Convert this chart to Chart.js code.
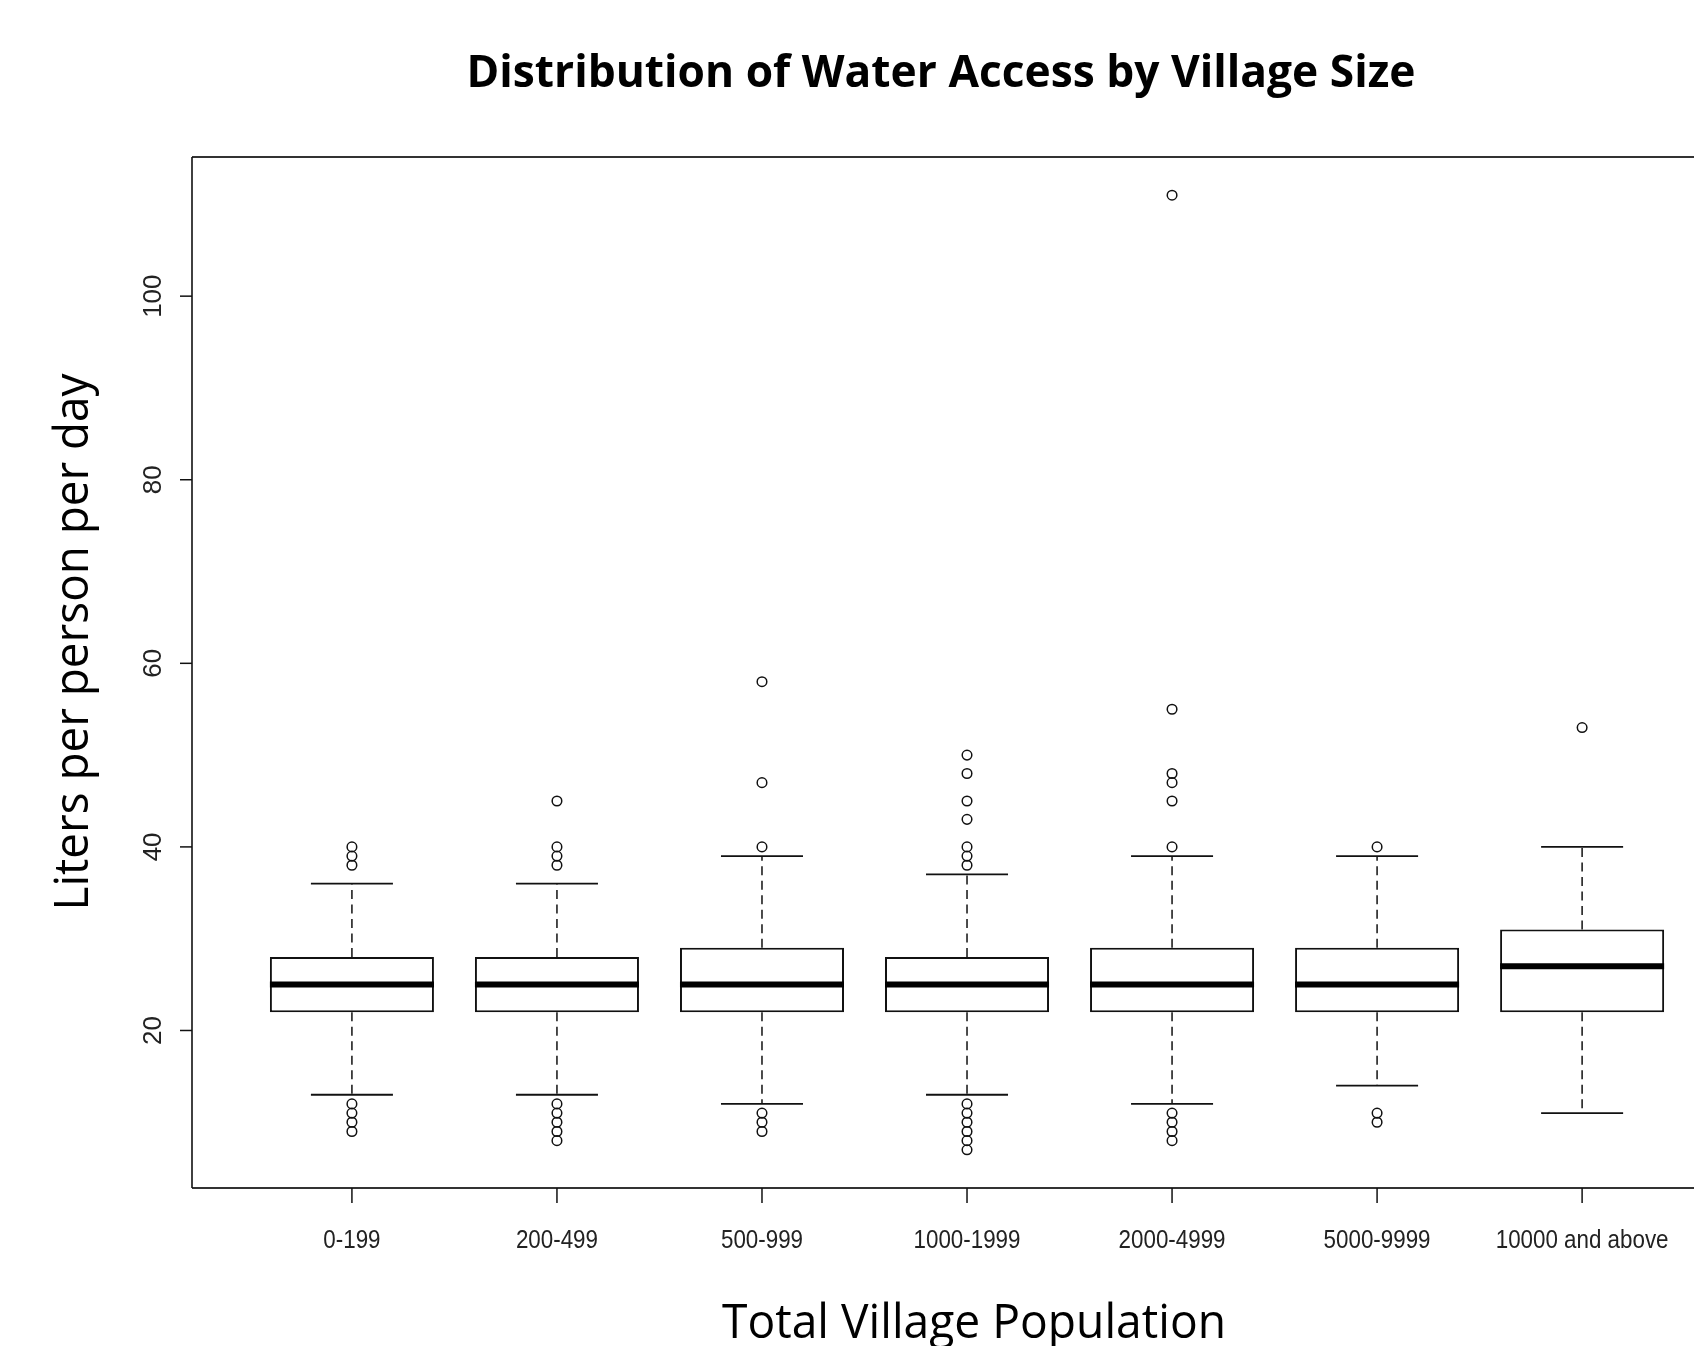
<!DOCTYPE html>
<html>
<head>
<meta charset="utf-8">
<title>Distribution of Water Access by Village Size</title>
<script src="https://cdn.jsdelivr.net/npm/chart.js@4.4.1/dist/chart.umd.min.js"></script>
<style>
  html, body { margin: 0; padding: 0; background: #fff; }
  #wrap { width: 1694px; height: 1346px; }
</style>
</head>
<body>
<div id="wrap"><canvas id="chart" width="1694" height="1346"></canvas></div>
<script>
// Box plot: liters per person per day, one box per village size band

const categories = ['0-199', '200-499', '500-999', '1000-1999', '2000-4999', '5000-9999', '10000 and above'];
const whiskerLow = [13, 13, 12, 13, 12, 14, 11];
const q1 = [22, 22, 22, 22, 22, 22, 22];
const medians = [25, 25, 25, 25, 25, 25, 27];
const q3 = [28, 28, 29, 28, 29, 29, 31];
const whiskerHigh = [36, 36, 39, 37, 39, 39, 40];
const outliers = [
  [40, 39, 38, 12, 11, 10, 9],
  [45, 40, 39, 38, 12, 11, 10, 9, 8],
  [58, 47, 40, 11, 10, 9],
  [50, 48, 45, 43, 40, 39, 38, 12, 11, 10, 9, 8, 7],
  [111, 55, 48, 47, 45, 40, 11, 10, 9, 8],
  [40, 11, 10],
  [53],
];
const yTicks = [20, 40, 60, 80, 100];

const INK = '#111';
const LABEL_INK = '#222';

function line(ctx, x1, y1, x2, y2) {
  ctx.beginPath();
  ctx.moveTo(x1, y1);
  ctx.lineTo(x2, y2);
  ctx.stroke();
}

// centred text, optionally rotated and squeezed/stretched to a given width
function drawText(ctx, text, x, y, opts) {
  ctx.save();
  ctx.font = opts.font;
  ctx.fillStyle = opts.color || INK;
  ctx.textAlign = 'center';
  ctx.textBaseline = 'alphabetic';
  ctx.translate(x, y);
  if (opts.angle) ctx.rotate(opts.angle);
  let sx = opts.squeeze || 1;
  if (opts.width) sx = opts.width / ctx.measureText(text).width;
  ctx.scale(sx, 1);
  ctx.fillText(text, 0, 0);
  ctx.restore();
}

const boxPlotExtras = {
  id: 'boxPlotExtras',
  afterDatasetsDraw(chart) {
    const { ctx } = chart;
    const y = chart.scales.y;
    const bars = chart.getDatasetMeta(0).data;
    ctx.save();
    ctx.strokeStyle = INK;
    categories.forEach((c, i) => {
      const bar = bars[i];
      const cx = bar.x;
      const half = bar.width / 2;
      const capHalf = half / 2;
      const yHi = y.getPixelForValue(whiskerHigh[i]);
      const yLo = y.getPixelForValue(whiskerLow[i]);

      ctx.lineWidth = 1.5;
      ctx.setLineDash([9, 5.5]);
      line(ctx, cx, y.getPixelForValue(q3[i]), cx, yHi);
      line(ctx, cx, y.getPixelForValue(q1[i]), cx, yLo);
      ctx.setLineDash([]);

      ctx.lineWidth = 1.8;
      line(ctx, cx - capHalf, yHi, cx + capHalf, yHi);
      line(ctx, cx - capHalf, yLo, cx + capHalf, yLo);

      const ym = y.getPixelForValue(medians[i]);
      ctx.lineWidth = 6;
      ctx.strokeStyle = '#000';
      line(ctx, cx - half, ym, cx + half, ym);
      ctx.strokeStyle = INK;
    });
    ctx.restore();
  },
  afterDraw(chart) {
    const { ctx, chartArea: area, width } = chart;
    const { x, y } = chart.scales;
    ctx.save();

    // frame (right side runs off the picture)
    ctx.strokeStyle = '#333';
    ctx.lineWidth = 2;
    line(ctx, area.left, area.top, width, area.top);
    line(ctx, area.left, area.bottom, width, area.bottom);
    ctx.lineWidth = 1.6;
    ctx.strokeStyle = INK;
    line(ctx, area.left, area.top, area.left, area.bottom);

    // x ticks + labels
    ctx.lineWidth = 1.5;
    x.ticks.forEach((t, i) => {
      const px = x.getPixelForValue(t.value);
      line(ctx, px, area.bottom, px, area.bottom + 15);
      drawText(ctx, categories[i], px, 1248, { font: '26px "Liberation Sans", Arial, sans-serif', squeeze: 0.86, color: LABEL_INK });
    });

    // y ticks + rotated labels
    y.ticks.forEach((t) => {
      const py = y.getPixelForValue(t.value);
      line(ctx, area.left - 12, py, area.left, py);
      drawText(ctx, String(t.value), 160.5, py, { font: '26px "Liberation Sans", Arial, sans-serif', angle: -Math.PI / 2, color: LABEL_INK });
    });

    // titles
    drawText(ctx, 'Distribution of Water Access by Village Size', 941, 87, { font: 'bold 45px "Open Sans", sans-serif', width: 949, color: '#000' });
    drawText(ctx, 'Liters per person per day', 88, 642, { font: '47px "Open Sans", sans-serif', width: 537, angle: -Math.PI / 2, color: '#000' });
    drawText(ctx, 'Total Village Population', 974, 1338, { font: '47px "Open Sans", sans-serif', width: 504, color: '#000' });

    ctx.restore();
  },
};

const boxData = categories.map((c, i) => ({ x: i + 1, y: [q1[i], q3[i]] }));
const outlierData = outliers.flatMap((vals, i) => vals.map((v) => ({ x: i + 1, y: v })));

new Chart(document.getElementById('chart').getContext('2d'), {
  type: 'bar',
  data: {
    datasets: [
      {
        type: 'bar',
        data: boxData,
        backgroundColor: '#fff',
        borderColor: INK,
        borderWidth: 2,
        borderSkipped: false,
        barPercentage: 0.8,
        categoryPercentage: 1,
      },
      {
        type: 'scatter',
        data: outlierData,
        pointStyle: 'circle',
        pointRadius: 4.8,
        pointBorderWidth: 1.5,
        pointBorderColor: INK,
        pointBackgroundColor: 'rgba(0,0,0,0)',
        showLine: false,
      },
    ],
  },
  options: {
    responsive: false,
    devicePixelRatio: 1,
    animation: false,
    events: [],
    layout: { padding: { left: 192, top: 157, right: 0, bottom: 158 } },
    plugins: { legend: { display: false }, tooltip: { enabled: false } },
    scales: {
      x: {
        type: 'linear', min: 0.22, max: 7.515, offset: false, display: false,
        afterBuildTicks: (s) => { s.ticks = categories.map((c, i) => ({ value: i + 1 })); },
      },
      y: {
        type: 'linear', min: 2.84, max: 115.16, display: false,
        afterBuildTicks: (s) => { s.ticks = yTicks.map((v) => ({ value: v })); },
      },
    },
  },
  plugins: [boxPlotExtras],
});
</script>
</body>
</html>
